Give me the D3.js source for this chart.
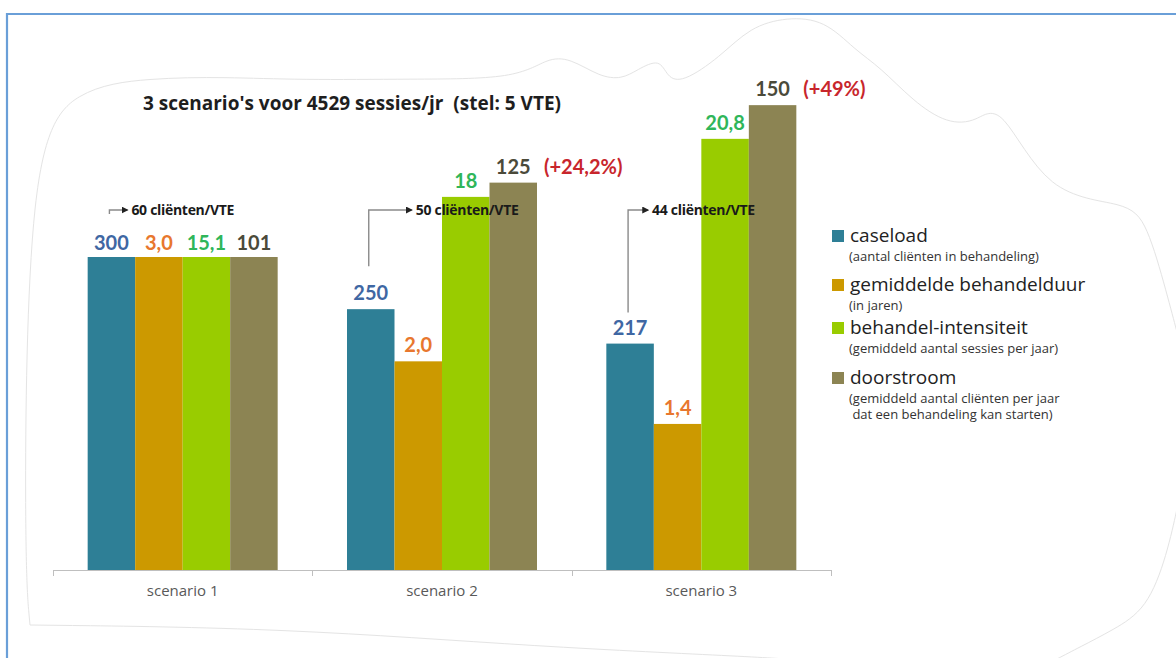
<!DOCTYPE html>
<html>
<head>
<meta charset="utf-8">
<script src="https://cdn.jsdelivr.net/npm/d3@7"></script>
<style>
  html, body { margin: 0; padding: 0; background: #fff; }
  svg { display: block; font-family: Lato, "Open Sans", sans-serif; }
  .os { font-family: "Open Sans", sans-serif; }
</style>
</head>
<body>
<svg id="chart" width="1176" height="658"></svg>
<script>
// data
const scenarios = ["scenario 1", "scenario 2", "scenario 3"]
const seriesNames = ["caseload", "gemiddelde behandelduur", "behandel-intensiteit", "doorstroom"]
const seriesNotes = [
  ["(aantal cliënten in behandeling)"],
  ["(in jaren)"],
  ["(gemiddeld aantal sessies per jaar)"],
  ["(gemiddeld aantal cliënten per jaar", " dat een behandeling kan starten)"]
]
const caseload = [300, 250, 217]
const behandelduur = [3.0, 2.0, 1.4]
const intensiteit = [15.1, 18, 20.8]
const doorstroom = [101, 125, 150]
const groei = ["", "(+24,2%)", "(+49%)"]
const clientenPerVTE = [60, 50, 44]
const title = "3 scenario's voor 4529 sessies/jr  (stel: 5 VTE)"

const barColors = ["#2e7f96", "#cc9900", "#99cc00", "#8c8453"]
const labelColors = ["#3f67a3", "#e8772e", "#2fb65a", "#4b4a3a"]

const comma = s => s.replace(".", ",")
const formats = [
  d3.format("d"),
  v => comma(d3.format(".1f")(v)),
  v => comma(String(v)),
  d3.format("d")
]
const values = [caseload, behandelduur, intensiteit, doorstroom]

const svg = d3.select("#chart")

// faint frame + cloud shaped backdrop
svg.append("path")
  .attr("d", "M7,658 V14 H1176")
  .attr("fill", "none").attr("stroke", "#6a9fd8").attr("stroke-width", 2.2)

const cloud = [[30,625],[24,560],[28,150],[75,88],[150,78],[225,77],[300,80],[412,79],[517,79],[547,58],
  [570,58],[600,77],[622,79],[637,70],[660,58],[667,77],[682,83],[720,57],[750,27],[787,17],[825,20],
  [855,50],[880,67],[913,101],[947,124],[977,122],[1000,101],[1047,197],[1127,202],[1147,223],[1167,294],
  [1178,336]]
const cloud2 = [[1178,504],[1167,555],[1147,609],[1113,630],[1080,647],[1055,660]]
const cloud3 = [[30,625],[285,628],[540,647],[760,657],[800,660]]
const ln = d3.line().curve(d3.curveBasis)
;[cloud, cloud2, cloud3].forEach(c => svg.append("path").attr("d", ln(c))
  .attr("fill", "none").attr("stroke", "#e4e4e4").attr("stroke-width", 1))

// scales
const x0 = d3.scaleBand().domain(scenarios).range([53, 831])
const x1 = d3.scaleBand().domain(seriesNames).range([0, 190])
const groupOffset = (x0.bandwidth() - 190) / 2
// each series is shown relative to scenario 1
const y = d3.scaleLinear().domain([0, 1]).range([570, 257])

const bars = []
scenarios.forEach((s, i) => {
  seriesNames.forEach((n, j) => {
    bars.push({ s, i, n, j, v: values[j][i], rel: values[j][i] / values[j][0] })
  })
})
const bx = d => x0(d.s) + groupOffset + x1(d.n)

svg.append("g").selectAll("rect").data(bars).join("rect")
  .attr("x", bx)
  .attr("y", d => y(d.rel))
  .attr("width", x1.bandwidth())
  .attr("height", d => y(0) - y(d.rel))
  .attr("fill", d => barColors[d.j])

// value labels
svg.append("g").selectAll("text").data(bars).join("text")
  .attr("x", d => bx(d) + x1.bandwidth() / 2)
  .attr("y", d => y(d.rel) - (d.i === 0 ? 7 : 9))
  .attr("text-anchor", "middle")
  .attr("font-size", 20).attr("font-weight", "bold")
  .attr("fill", d => labelColors[d.j])
  .text(d => formats[d.j](d.v))

// growth of doorstroom
svg.append("g").selectAll("text").data(scenarios.filter((s, i) => groei[i])).join("text")
  .attr("x", s => x0(s) + groupOffset + x1(seriesNames[3]) + x1.bandwidth() + 7)
  .attr("y", s => y(doorstroom[scenarios.indexOf(s)] / doorstroom[0]) - 9)
  .attr("font-size", 20).attr("font-weight", "bold")
  .attr("fill", "#c8262c")
  .text(s => groei[scenarios.indexOf(s)])

// axis
const ax = svg.append("g")
ax.append("line").attr("x1", x0.range()[0]).attr("x2", x0.range()[1])
  .attr("y1", y(0) + 0.5).attr("y2", y(0) + 0.5).attr("stroke", "#bfbfbf")
const edges = scenarios.map(s => x0(s)).concat([x0.range()[1]])
ax.selectAll(".tk").data(edges).join("line")
  .attr("x1", d => Math.round(d) + 0.5).attr("x2", d => Math.round(d) + 0.5)
  .attr("y1", y(0)).attr("y2", y(0) + 6).attr("stroke", "#bfbfbf")
ax.selectAll("text").data(scenarios).join("text")
  .attr("class", "os")
  .attr("x", s => x0(s) + x0.bandwidth() / 2)
  .attr("y", y(0) + 26)
  .attr("text-anchor", "middle").attr("font-size", 15).attr("fill", "#595959")
  .text(s => s)

// clients per VTE annotations
const arrowLen = [18, 43, 20]
svg.append("defs").append("marker")
  .attr("id", "arr").attr("viewBox", "0 0 6 6").attr("refX", 5).attr("refY", 3)
  .attr("markerWidth", 5).attr("markerHeight", 5).attr("orient", "auto")
  .append("path").attr("d", "M0,0 L6,3 L0,6 Z").attr("fill", "#222")
const annY = 210
scenarios.forEach((s, i) => {
  const cx = x0(s) + groupOffset + x1(seriesNames[0]) + x1.bandwidth() / 2 - 2
  const bottom = y(caseload[i] / caseload[0]) - 9 - 20 - (i === 2 ? 2 : 14)
  svg.append("path")
    .attr("d", `M${cx},${bottom} V${annY} H${cx + arrowLen[i]}`)
    .attr("fill", "none").attr("stroke", "#8a8a8a").attr("stroke-width", 1.4)
    .attr("marker-end", "url(#arr)")
  svg.append("text").attr("class", "os")
    .attr("x", cx + arrowLen[i] + 4).attr("y", annY + 5)
    .attr("font-size", 14).attr("font-weight", "bold").attr("fill", "#1a1a1a")
    .attr("letter-spacing", -0.3)
    .text(`${clientenPerVTE[i]} cliënten/VTE`)
})

// title
svg.append("text").attr("class", "os").attr("x", 143).attr("y", 110)
  .attr("font-size", 19).attr("font-weight", "bold").attr("fill", "#1e1e1e")
  .style("white-space", "pre")
  .text(title)

// legend
const legendTops = [229, 278, 321, 371]
const lg = svg.append("g")
seriesNames.forEach((n, j) => {
  const g = lg.append("g").attr("transform", `translate(832,${legendTops[j]})`)
  g.append("rect").attr("width", 12).attr("height", 12).attr("y", 1).attr("fill", barColors[j])
  g.append("text").attr("class", "os").attr("x", 18).attr("y", 13).attr("font-size", 19).attr("fill", "#222")
    .text(n)
  seriesNotes[j].forEach((t, k) => {
    g.append("text").attr("class", "os").attr("x", 17).attr("y", 32 + k * 16).attr("font-size", 13)
      .attr("fill", "#333").style("white-space", "pre").text(t)
  })
})
</script>
</body>
</html>
